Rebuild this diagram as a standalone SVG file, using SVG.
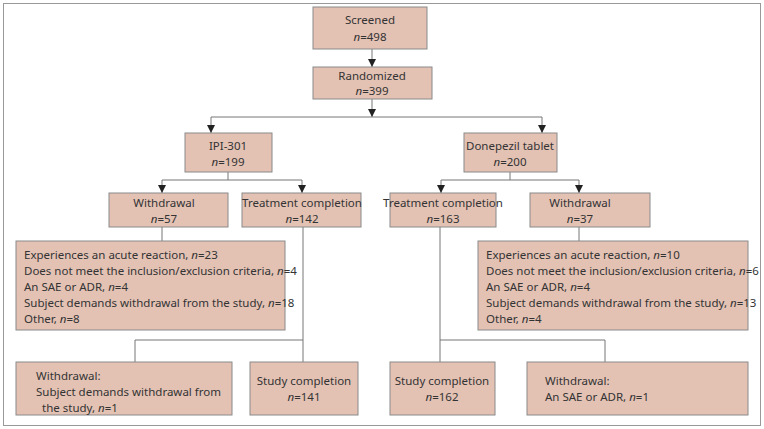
<svg xmlns="http://www.w3.org/2000/svg" width="764" height="429" viewBox="0 0 764 429">
<defs>
<marker id="ah" viewBox="0 0 10 10" refX="10" refY="5" markerWidth="8" markerHeight="8" markerUnits="userSpaceOnUse" orient="auto"><path d="M0,0L10,5L0,10z" fill="#222"/></marker>
<style>
.b{fill:#e3c2b4;stroke:#8a8a8a;stroke-width:1}
text{font-family:"Noto Sans","Liberation Sans",sans-serif;font-size:11.5px;fill:#333}
.c{text-anchor:middle}
.l{fill:none;stroke:#777;stroke-width:1}
.a{marker-end:url(#ah)}
</style>
</defs>
<rect x="3.5" y="3.5" width="757" height="422" fill="#fff" stroke="#999"/>
<g id="connectors">
<path class="l a" d="M372,49V67"/>
<path class="l a" d="M372,99V117"/>
<path class="l a" d="M211,117H542M211,117V133"/>
<path class="l a" d="M542,117V133"/>
<path class="l a" d="M228,172V180H162V193"/>
<path class="l a" d="M228,180H302V193"/>
<path class="l a" d="M510,172V180H441V193"/>
<path class="l a" d="M510,180H579V193"/>
<path class="l" d="M162,227V241"/>
<path class="l" d="M579,227V241"/>
<path class="l" d="M303,227V362M303,340H135V362"/>
<path class="l" d="M440,227V362M440,340H605V362"/>
</g>
<g id="screened"><rect class="b" x="313" y="7" width="114" height="42"/><text class="c" x="370" y="24">Screened</text><text class="c" x="370" y="41"><tspan font-style="italic">n</tspan>=498</text></g>
<g id="randomized"><rect class="b" x="313" y="67" width="119" height="32"/><text class="c" x="372" y="80">Randomized</text><text class="c" x="372" y="95"><tspan font-style="italic">n</tspan>=399</text></g>
<g id="ipi"><rect class="b" x="185" y="133" width="87" height="39"/><text class="c" x="228" y="150">IPI-301</text><text class="c" x="228" y="166"><tspan font-style="italic">n</tspan>=199</text></g>
<g id="done"><rect class="b" x="464" y="133" width="93" height="39"/><text class="c" x="510" y="150">Donepezil tablet</text><text class="c" x="510" y="166"><tspan font-style="italic">n</tspan>=200</text></g>
<g id="lw"><rect class="b" x="109" y="193" width="119" height="34"/><text class="c" x="164" y="207">Withdrawal</text><text class="c" x="164" y="223"><tspan font-style="italic">n</tspan>=57</text></g>
<g id="ltc"><rect class="b" x="242" y="193" width="119" height="34"/><text class="c" x="302" y="207">Treatment completion</text><text class="c" x="302" y="223"><tspan font-style="italic">n</tspan>=142</text></g>
<g id="rtc"><rect class="b" x="390" y="193" width="106" height="34"/><text class="c" x="443" y="207">Treatment completion</text><text class="c" x="443" y="223"><tspan font-style="italic">n</tspan>=163</text></g>
<g id="rw"><rect class="b" x="530" y="193" width="120" height="34"/><text class="c" x="580" y="207">Withdrawal</text><text class="c" x="580" y="223"><tspan font-style="italic">n</tspan>=37</text></g>
<g id="ld"><rect class="b" x="16" y="241" width="269" height="89"/>
<text x="24" y="259">Experiences an acute reaction, <tspan font-style="italic">n</tspan>=23</text>
<text x="24" y="275">Does not meet the inclusion/exclusion criteria, <tspan font-style="italic">n</tspan>=4</text>
<text x="24" y="291">An SAE or ADR, <tspan font-style="italic">n</tspan>=4</text>
<text x="24" y="307">Subject demands withdrawal from the study, <tspan font-style="italic">n</tspan>=18</text>
<text x="24" y="323">Other, <tspan font-style="italic">n</tspan>=8</text></g>
<g id="rd"><rect class="b" x="478" y="241" width="270" height="89"/>
<text x="486" y="259">Experiences an acute reaction, <tspan font-style="italic">n</tspan>=10</text>
<text x="486" y="275">Does not meet the inclusion/exclusion criteria, <tspan font-style="italic">n</tspan>=6</text>
<text x="486" y="291">An SAE or ADR, <tspan font-style="italic">n</tspan>=4</text>
<text x="486" y="307">Subject demands withdrawal from the study, <tspan font-style="italic">n</tspan>=13</text>
<text x="486" y="323">Other, <tspan font-style="italic">n</tspan>=4</text></g>
<g id="lbw"><rect class="b" x="16" y="362" width="216" height="53"/>
<text x="36" y="380">Withdrawal:</text>
<text x="36" y="396">Subject demands withdrawal from</text>
<text x="42" y="412">the study, <tspan font-style="italic">n</tspan>=1</text></g>
<g id="lsc"><rect class="b" x="250" y="362" width="108" height="53"/><text class="c" x="304" y="385">Study completion</text><text class="c" x="304" y="401"><tspan font-style="italic">n</tspan>=141</text></g>
<g id="rsc"><rect class="b" x="390" y="362" width="105" height="53"/><text class="c" x="442" y="385">Study completion</text><text class="c" x="442" y="401"><tspan font-style="italic">n</tspan>=162</text></g>
<g id="rbw"><rect class="b" x="527" y="362" width="221" height="53"/>
<text x="545" y="385">Withdrawal:</text>
<text x="545" y="401">An SAE or ADR, <tspan font-style="italic">n</tspan>=1</text></g>
</svg>
